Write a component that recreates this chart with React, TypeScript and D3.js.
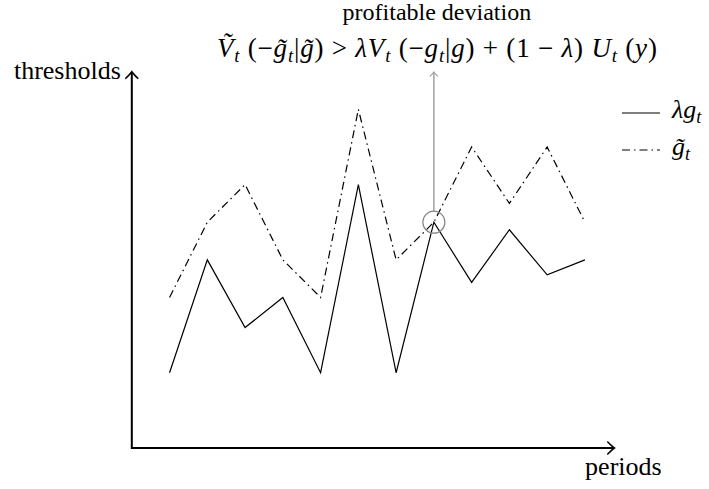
import React from "react";
import * as d3 from "d3";

// values (periods 1..12)
const periods = [1, 2, 3, 4, 5, 6, 7, 8, 9, 10, 11, 12];
const lambdaG = [2, 5, 3.2, 4, 2, 7, 2, 6, 4.4, 5.8, 4.6, 5];
const gTilde = [4, 6, 7, 5, 4, 9, 5, 6, 8, 6.5, 8, 6];
const deviationPeriod = 8;

const W = 709;
const H = 489;
const FONT = '"Liberation Serif"';

type Seg = { t: string; it?: boolean; sub?: boolean };

const formula: Seg[] = [
  { t: "V\u0303", it: true },
  { t: "t", it: true, sub: true },
  { t: " (\u2212" },
  { t: "g\u0303", it: true },
  { t: "t", it: true, sub: true },
  { t: "|" },
  { t: "g\u0303", it: true },
  { t: ") > " },
  { t: "\u03bbV", it: true },
  { t: "t", it: true, sub: true },
  { t: " (\u2212" },
  { t: "g", it: true },
  { t: "t", it: true, sub: true },
  { t: "|" },
  { t: "g", it: true },
  { t: ") + (1 \u2212 " },
  { t: "\u03bb", it: true },
  { t: ") " },
  { t: "U", it: true },
  { t: "t", it: true, sub: true },
  { t: " (" },
  { t: "y", it: true },
  { t: ")" },
];

const MathText = ({ segs, x, y, size, anchor = "start", length }: { segs: Seg[]; x: number; y: number; size: number; anchor?: string; length?: number }) => {
  let shifted = false;
  return (
    <text
      x={x}
      y={y}
      fontSize={size}
      textAnchor={anchor}
      textLength={length}
      lengthAdjust={length ? "spacing" : undefined}
      style={{ whiteSpace: "pre", fontFamily: FONT }}
    >
      {segs.map((s, i) => {
        let dy = 0;
        if (s.sub && !shifted) { dy = size * 0.2; shifted = true; }
        else if (!s.sub && shifted) { dy = -size * 0.2; shifted = false; }
        return (
          <tspan key={i} dy={dy} fontStyle={s.it ? "italic" : "normal"} fontSize={s.sub ? size * 0.7 : size}>
            {s.t}
          </tspan>
        );
      })}
    </text>
  );
};

const arrowHead = (x: number, y: number, dir: "up" | "right", s = 6) =>
  dir === "up"
    ? `M${x - s},${y + s * 1.1} Q${x - s * 0.2},${y + s * 0.3} ${x},${y} Q${x + s * 0.2},${y + s * 0.3} ${x + s},${y + s * 1.1}`
    : `M${x - s * 1.1},${y - s} Q${x - s * 0.3},${y - s * 0.2} ${x},${y} Q${x - s * 0.3},${y + s * 0.2} ${x - s * 1.1},${y + s}`;

export default function App() {
  const x = d3.scaleLinear().domain([0, 13]).range([131.8, 131.8 + 13 * 37.76]);
  const y = d3.scaleLinear().domain([0, 10]).range([448, 448 - 10 * 37.63]);

  const line = d3
    .line<number>()
    .x((_, i) => x(periods[i]))
    .y((d) => y(d));

  const x0 = x(0);
  const y0 = y(0);
  const xEnd = x(12.78);
  const yEnd = y(10);

  const cx = x(deviationPeriod);
  const cy = y(lambdaG[deviationPeriod - 1]);

  return (
    <svg width={W} height={H} style={{ position: "absolute", left: 0, top: 0, background: "#fff" }}>
      {/* axes */}
      <path d={`M${x0},${yEnd + 1} L${x0},${y0} L${xEnd - 1},${y0}`} fill="none" stroke="#000" strokeWidth={2} />
      <path d={arrowHead(x0, yEnd, "up")} fill="none" stroke="#000" strokeWidth={1.6} strokeLinecap="round" />
      <path d={arrowHead(xEnd, y0, "right")} fill="none" stroke="#000" strokeWidth={1.6} strokeLinecap="round" />
      <text x={x0 - 11} y={yEnd + 7} textAnchor="end" fontSize={26} style={{ fontFamily: FONT }}>thresholds</text>
      <text x={xEnd + 9} y={y0 + 27} textAnchor="middle" fontSize={26} style={{ fontFamily: FONT }}>periods</text>

      {/* series */}
      <path d={line(gTilde) ?? ""} fill="none" stroke="#000" strokeWidth={1.2} strokeDasharray="8,4,1.5,4" />
      <path d={line(lambdaG) ?? ""} fill="none" stroke="#000" strokeWidth={1.2} />

      {/* profitable deviation marker */}
      <circle cx={cx} cy={cy} r={11} fill="none" stroke="#888" strokeWidth={1.2} />
      <line x1={cx} y1={cy - 11} x2={cx} y2={73} stroke="#999" strokeWidth={1.4} />
      <path d={arrowHead(cx, 72, "up", 4)} fill="none" stroke="#999" strokeWidth={1.1} />
      <text x={cx + 3} y={20} textAnchor="middle" fontSize={24} style={{ fontFamily: FONT }}>profitable deviation</text>
      <MathText segs={formula} x={cx + 3} y={57} size={27} anchor="middle" length={440} />

      {/* legend */}
      <line x1={622} x2={660} y1={113} y2={113} stroke="#000" strokeWidth={1.2} />
      <MathText segs={[{ t: "\u03bbg", it: true }, { t: "t", it: true, sub: true }]} x={672} y={118} size={26} />
      <line x1={622} x2={660} y1={150} y2={150} stroke="#000" strokeWidth={1.2} strokeDasharray="8,4,1.5,4" />
      <MathText segs={[{ t: "g\u0303", it: true }, { t: "t", it: true, sub: true }]} x={672} y={155} size={26} />
    </svg>
  );
}
